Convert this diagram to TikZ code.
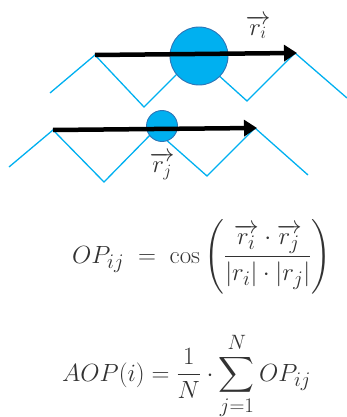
\documentclass[tikz,border=0pt]{standalone}
\usepackage{amsmath}
\usetikzlibrary{arrows.meta}
\definecolor{zig}{RGB}{0,176,240}
\definecolor{ballfill}{RGB}{0,176,240}
\definecolor{balledge}{RGB}{46,117,182}
\definecolor{eqtext}{RGB}{50,50,50}
\begin{document}
\begin{tikzpicture}[x=1pt,y=-1pt,
  chain/.style={zig,line width=1.3pt,line join=miter},
  ball/.style={circle,fill=ballfill,draw=balledge,line width=0.9pt,inner sep=0pt},
  vec/.style={black,line width=4.5pt,-{Triangle[length=13pt,width=16pt]},shorten >=-2pt},
  lbl/.style={inner sep=0pt,text=eqtext,font=\fontsize{25}{29}\selectfont},
  eq/.style={inner sep=0pt,text=eqtext,font=\fontsize{29}{34}\selectfont}]
\useasboundingbox (0,0) rectangle (347,417);
% top chain
\coordinate (a0) at (50,93);
\coordinate (a1) at (95,55);
\coordinate (a2) at (144,107);
\coordinate (a3) at (196,55);
\coordinate (a4) at (247,101);
\coordinate (a5) at (295,53);
\coordinate (a6) at (347,98);
\draw[chain] (a0) -- (a1) -- (a2) -- (a3) -- (a4) -- (a5) -- (a6);
% bottom chain
\coordinate (b0) at (9,167);
\coordinate (b1) at (53,130);
\coordinate (b2) at (104,182);
\coordinate (b3) at (155,130);
\coordinate (b4) at (207,176);
\coordinate (b5) at (255,128);
\coordinate (b6) at (308,175);
\draw[chain] (b0) -- (b1) -- (b2) -- (b3) -- (b4) -- (b5) -- (b6);
% balls
\node[ball,minimum size=58pt] (bi) at (199,56) {};
\node[ball,minimum size=31pt] (bj) at (162,126) {};
% vectors
\draw[vec] (a1) -- (a5);
\draw[vec] (b1) -- (b5);
% labels
\node[lbl] (li) at (258,27) {$\overrightarrow{r_i}$};
\node[lbl] (lj) at (162,166) {$\overrightarrow{r_j}$};
% equations
\node[eq,anchor=base west] (e1) at (72,263) {$OP_{ij}\;=\;\cos\left(\dfrac{\overrightarrow{r_i}\cdot\overrightarrow{r_j}}{|r_i|\cdot|r_j|}\right)$};
\node[eq,anchor=base west] (e2) at (62,381) {$AOP(i)=\dfrac{1}{N}\cdot\displaystyle\sum_{j=1}^{N}OP_{ij}$};
\end{tikzpicture}
\end{document}
